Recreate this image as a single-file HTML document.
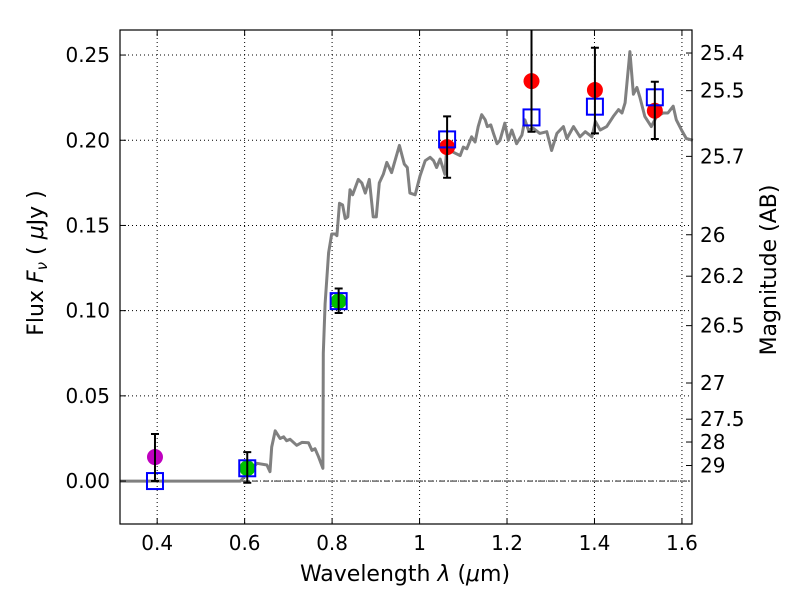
<!DOCTYPE html>
<html><head><meta charset="utf-8"><style>
body{margin:0;background:#fff}
svg text{font-family:"DejaVu Sans","Liberation Sans",sans-serif;fill:#000}
</style></head><body>
<svg id="chart" width="800" height="600" viewBox="0 0 800 600" xmlns="http://www.w3.org/2000/svg">
<rect width="800" height="600" fill="#fff"/>
<g id="grid"></g>
<g id="spec"></g>
<g id="pts"></g>
<g id="axes"></g>
<text x="405" y="581" font-size="22" text-anchor="middle">Wavelength  <tspan font-style="italic">λ</tspan> (<tspan font-style="italic">μ</tspan>m)</text>
<text transform="translate(43,263) rotate(-90)" font-size="22" text-anchor="middle">Flux  <tspan font-style="italic">F<tspan font-size="15" dy="4">ν</tspan></tspan><tspan dy="-4">  ( </tspan><tspan font-style="italic">μ</tspan>Jy )</text>
<text transform="translate(776,270) rotate(-90)" font-size="22" text-anchor="middle">Magnitude (AB)</text>
</svg>
<script>
const specX=[0.315,0.59,0.628,0.651,0.658,0.662,0.670,0.681,0.689,0.696,0.704,0.719,0.731,0.746,0.754,0.761,0.769,0.779,0.780,0.784,0.792,0.799,0.807,0.811,0.817,0.824,0.830,0.836,0.841,0.847,0.860,0.868,0.876,0.885,0.894,0.901,0.908,0.917,0.925,0.936,0.954,0.965,0.972,0.978,0.990,1.001,1.013,1.024,1.032,1.039,1.047,1.058,1.062,1.077,1.093,1.100,1.108,1.119,1.127,1.134,1.142,1.150,1.155,1.163,1.169,1.177,1.184,1.195,1.203,1.211,1.222,1.234,1.241,1.249,1.260,1.275,1.291,1.302,1.314,1.329,1.337,1.352,1.367,1.379,1.394,1.402,1.413,1.428,1.443,1.455,1.463,1.470,1.481,1.489,1.497,1.504,1.515,1.530,1.542,1.557,1.568,1.580,1.587,1.599,1.610,1.625];
const specY=[0,0,0.0104,0.0094,0.0055,0.020,0.0295,0.025,0.026,0.0237,0.0245,0.021,0.0227,0.0225,0.018,0.019,0.0143,0.0075,0.075,0.104,0.134,0.145,0.145,0.144,0.163,0.162,0.154,0.155,0.171,0.168,0.177,0.175,0.169,0.177,0.155,0.155,0.175,0.180,0.187,0.181,0.197,0.186,0.184,0.169,0.168,0.179,0.188,0.190,0.188,0.184,0.189,0.180,0.195,0.193,0.191,0.196,0.195,0.202,0.199,0.208,0.215,0.212,0.208,0.209,0.204,0.198,0.200,0.210,0.200,0.206,0.198,0.203,0.212,0.206,0.207,0.204,0.205,0.194,0.204,0.208,0.201,0.208,0.202,0.205,0.202,0.211,0.206,0.208,0.214,0.218,0.216,0.222,0.252,0.227,0.231,0.225,0.214,0.208,0.214,0.216,0.216,0.220,0.212,0.206,0.201,0.200];
const obsX=[0.395,0.606,0.815,1.063,1.256,1.401,1.538];
const obsY=[0.0141,0.0075,0.1056,0.196,0.2347,0.2295,0.2173];
const errLo=[0.0,-0.001,0.0986,0.178,0.205,0.204,0.2007];
const errHi=[0.0276,0.017,0.113,0.214,0.29,0.2543,0.2343];
const obsColor=['#bf00bf','#00c000','#00c000','#ff0000','#ff0000','#ff0000','#ff0000'];
const modelY=[0.0,0.0075,0.1056,0.2005,0.2134,0.2197,0.2252];
const xTicks=[0.4,0.6,0.8,1.0,1.2,1.4,1.6];
const xTickLabels=['0.4','0.6','0.8','1','1.2','1.4','1.6'];
const yTicks=[0,0.05,0.10,0.15,0.20,0.25];
const yTickLabels=['0.00','0.05','0.10','0.15','0.20','0.25'];
const magTicks=[25.4,25.5,25.7,26,26.2,26.5,27,27.5,28,29];
const magTickLabels=['25.4','25.5','25.7','26','26.2','26.5','27','27.5','28','29'];

const L=120,R=692,T=30,B=524,xmin=0.315,xmax=1.623,ymin=-0.0252,ymax=0.2647;
const sx=v=>L+(v-xmin)/(xmax-xmin)*(R-L);
const sy=v=>B-(v-ymin)/(ymax-ymin)*(B-T);
const NS='http://www.w3.org/2000/svg';
function mk(tag,parent,attrs){const e=document.createElementNS(NS,tag);for(const k in attrs)e.setAttribute(k,attrs[k]);parent.appendChild(e);return e;}
const grid=document.getElementById('grid'),spec=document.getElementById('spec'),pts=document.getElementById('pts'),axes=document.getElementById('axes');

xTicks.forEach((v,i)=>{
  const g=mk('line',grid,{x1:sx(v),x2:sx(v),y1:T,y2:B,stroke:'#000','stroke-width':1,'stroke-dasharray':'1,3'});
  
  
  mk('line',axes,{x1:sx(v),x2:sx(v),y1:B,y2:B-6,stroke:'#000'});
  mk('line',axes,{x1:sx(v),x2:sx(v),y1:T,y2:T+6,stroke:'#000'});
  const t=mk('text',axes,{x:sx(v),y:B+26,'font-size':20,'text-anchor':'middle'});
  t.textContent=xTickLabels[i];
  
  
});
yTicks.forEach((v,i)=>{
  const g=mk('line',grid,{x1:L,x2:R,y1:sy(v),y2:sy(v),stroke:'#000','stroke-width':1,'stroke-dasharray':'1,3'});
  
  
  mk('line',axes,{x1:L,x2:L+6,y1:sy(v),y2:sy(v),stroke:'#000'});
  const t=mk('text',axes,{x:L-10,y:sy(v)+7,'font-size':20,'text-anchor':'end'});
  t.textContent=yTickLabels[i];
  
  
});
const zl=mk('line',grid,{x1:L,x2:R,y1:sy(0),y2:sy(0),stroke:'#000','stroke-width':0.8,'stroke-dasharray':'6,2,1,2'});


magTicks.forEach((m,i)=>{
  const f=Math.pow(10,(23.9-m)/2.5);const y=sy(f);
  mk('line',axes,{x1:R,x2:R-6,y1:y,y2:y,stroke:'#000'});
  const t=mk('text',axes,{x:R+8,y:y+7,'font-size':20});
  t.textContent=magTickLabels[i];
  
  
});
let d='';
specX.forEach((v,i)=>{d+=(i?'L':'M')+sx(v).toFixed(1)+','+sy(specY[i]).toFixed(1);});
const p=mk('path',spec,{d:d,fill:'none',stroke:'#808080','stroke-width':3,'stroke-linejoin':'round'});


const clip=mk('clipPath',document.getElementById('chart'),{id:'pc'});
mk('rect',clip,{x:L,y:T,width:R-L,height:B-T});
pts.setAttribute('clip-path','url(#pc)');
obsX.forEach((v,i)=>{
  const x=sx(v);
  const c=mk('circle',pts,{cx:x,cy:sy(obsY[i]),r:8,fill:obsColor[i]});
  
  
  const s=mk('rect',pts,{x:x-8,y:sy(modelY[i])-8,width:16,height:16,fill:'none',stroke:'#0000ff','stroke-width':2});
  
  
  const e=mk('path',pts,{d:`M${x},${sy(errLo[i])}V${sy(errHi[i])}M${x-4},${sy(errLo[i])}h8M${x-4},${sy(errHi[i])}h8`,stroke:'#000','stroke-width':2,fill:'none'});
  
  
});
const fr=mk('rect',axes,{x:L,y:T,width:R-L,height:B-T,fill:'none',stroke:'#000','stroke-width':1.2});


</script>
</body></html>
